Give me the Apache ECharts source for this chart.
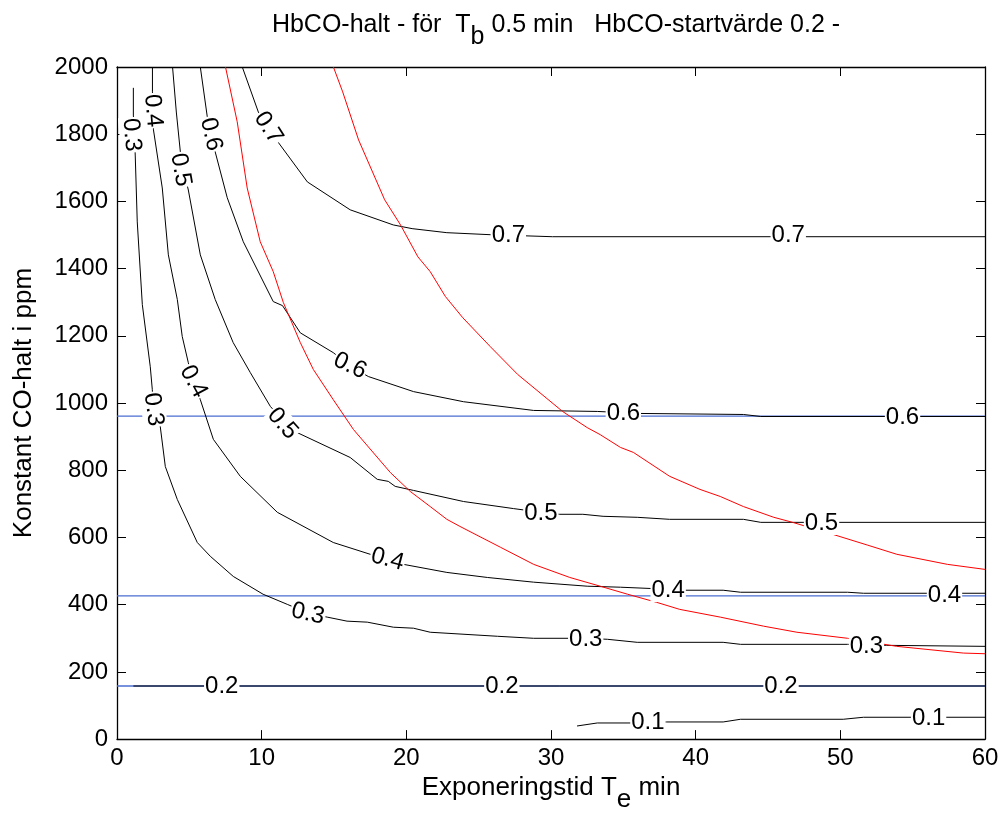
<!DOCTYPE html>
<html>
<head>
<meta charset="utf-8">
<script src="https://cdn.jsdelivr.net/npm/echarts@6/dist/echarts.min.js"></script>
<style>
html,body{margin:0;padding:0;background:#fff;}
#chart{width:1003px;height:818px;}
</style>
</head>
<body>
<div id="chart"></div>
<script>
// ---- data (x: Exponeringstid min, y: CO-halt ppm) ----
const xTicks = [0, 10, 20, 30, 40, 50, 60];
const yTicks = [0, 200, 400, 600, 800, 1000, 1200, 1400, 1600, 1800, 2000];

const c01 = [[31.8,39],[33.2,48],[35.5,48],[38.0,51],[41.9,51],[43.1,59],[50.2,59],[51.6,65],[60,65]];
const c02 = [[1.13,158],[60,158]];
const c03 = [[1.13,1938],[1.13,1857],[1.2,1798],[1.26,1738],[1.40,1539],[1.75,1293],[2.30,1108],[2.44,1040],[2.52,981],[2.99,930],[3.34,811],[4.17,713],[5.55,585],[6.45,544],[8.04,484],[10.1,431],[11.77,401],[13.2,375],[14.53,363],[15.9,351],[17.3,348],[19.1,333],[20.5,330],[21.65,318],[26.3,306],[28.8,300],[32.4,300],[33.9,297],[35.96,288],[41.9,288],[43.1,282],[50.5,282],[51.8,281],[53.2,279],[60,276]];
const c04 = [[2.45,2000],[2.45,1926],[2.5,1870],[2.52,1813],[3.13,1640],[3.55,1441],[4.17,1308],[4.51,1198],[4.93,1120],[5.29,1064],[5.76,1010],[6.66,892],[8.52,782],[11.08,675],[14.95,585],[17.5,550],[18.7,535],[19.8,520],[22.8,496],[25.6,481],[28.8,467],[32.5,455],[34.8,452],[38.1,446],[38.9,443],[41.9,443],[43.1,437],[50.5,437],[51.6,434],[60,434]];
const c05 = [[3.84,2000],[4.1,1866],[4.38,1747],[4.6,1694],[4.93,1634],[5.76,1441],[6.79,1308],[8.03,1180],[9.21,1091],[10.6,990],[11.44,950],[12.46,912],[16.12,838],[17.99,773],[18.75,767],[19.23,752],[20.5,740],[23.95,707],[27.4,686],[29.3,675],[30.6,669],[32.2,669],[33.6,663],[35.96,660],[38.2,654],[43.3,654],[44.5,645],[60,645]];
const c06 = [[5.76,2000],[6.24,1852],[6.5,1800],[6.79,1747],[7.62,1611],[8.73,1480],[10.8,1302],[11.44,1290],[12.67,1209],[14.95,1150],[16.1,1111],[17.37,1079],[20.5,1034],[23.95,1004],[28.8,978],[33.2,975],[36.2,969],[43.3,966],[44.5,960],[60,960]];
const c07 = [[8.66,2000],[9.77,1866],[10.46,1819],[11.16,1775],[13.16,1658],[16.12,1575],[19.1,1530],[20.4,1519],[22.8,1507],[25.8,1501],[30.1,1495],[60,1495]];

const redA = [[7.5,2000],[8.31,1837],[9.0,1640],[9.9,1480],[10.8,1391],[11.5,1299],[12.67,1180],[13.57,1100],[14.95,1010],[16.35,921],[18.9,793],[20.27,737],[21.65,692],[22.8,654],[23.7,633],[26.5,571],[28.8,520],[31.3,481],[33.4,455],[35.3,431],[37.3,407],[38.9,386],[41.7,363],[44.7,336],[47.0,318],[50.5,300],[53.9,276],[58.5,256],[60,254]];
const redB = [[14.96,2000],[15.6,1926],[16.7,1783],[18.5,1605],[19.6,1530],[20.8,1435],[21.65,1391],[22.7,1317],[23.9,1254],[25.8,1168],[27.7,1085],[30.8,975],[32.5,927],[33.4,906],[34.8,868],[35.7,853],[38.2,782],[40.3,743],[41.7,722],[43.3,692],[45.4,660],[46.7,645],[49.5,609],[51.9,577],[53.9,550],[57.4,520],[60,505]];

const blueLevels = [961, 426, 158];

// contour labels: [x, y, text]
const labelPoints = [
  [10.46,1819,'0.7'],[27.05,1498,'0.7'],[46.4,1498,'0.7'],
  [6.5,1800,'0.6'],[16.1,1111,'0.6'],[35.0,970,'0.6'],[54.3,956,'0.6'],
  [4.4,1694,'0.5'],[11.44,939,'0.5'],[29.3,672,'0.5'],[48.7,643,'0.5'],
  [2.5,1870,'0.4'],[5.29,1064,'0.4'],[18.7,535,'0.4'],[38.1,444,'0.4'],[57.2,428,'0.4'],
  [1.0,1798,'0.3'],[2.52,981,'0.3'],[13.2,373,'0.3'],[32.4,298,'0.3'],[51.8,277,'0.3'],
  [7.24,158,'0.2'],[26.6,158,'0.2'],[45.9,158,'0.2'],
  [36.7,50,'0.1'],[56.1,63,'0.1']
];
const labelAngles = [-57,0,0, -77,-25,0,0, -80,-48,0,0, -85,-62,-15,0,0, -85,-82,-12,0,0, 0,0,0, 0,0];

// ---- chart ----
const FONT = 'Liberation Sans, Arial, Helvetica, sans-serif';
const chart = echarts.init(document.getElementById('chart'), null, {renderer:'canvas'});

function lineSeries(data, color, z, w){
  return {type:'line', data:data, showSymbol:false, symbol:'none', smooth:false,
    lineStyle:{color:color, width:w || 1}, z:z, silent:true, animation:false};
}

const series = [];
blueLevels.forEach(v => series.push(lineSeries([[0,v],[60,v]], '#4a6cd0', 2, 1.3)));
[c01,c02,c03,c04,c05,c06,c07].forEach(c => series.push(lineSeries(c, '#000000', 3)));
series.push(lineSeries(redA, '#ff0000', 4));
series.push(lineSeries(redB, '#ff0000', 4));
series.push({
  type:'scatter', symbolSize:0, z:10, silent:true, animation:false,
  itemStyle:{color:'#000'},
  data: labelPoints.map((p,i) => ({value:[p[0],p[1]], name:p[2],
    label:{rotate:labelAngles[i]}})),
  label:{show:true, position:'inside', formatter: p => p.name,
    color:'#000', fontSize:24, fontFamily:FONT, backgroundColor:'#fff', padding:[0,1],
    textBorderWidth:0, textBorderColor:'transparent', textShadowBlur:0, opacity:1}
});

const axisCommon = {
  axisLine:{show:true, onZero:false, lineStyle:{color:'#000', width:1.3}},
  axisTick:{show:true, inside:true, length:9, lineStyle:{color:'#000', width:1}},
  splitLine:{show:false}
};
const plain = v => String(v);

chart.setOption({
  animation:false,
  backgroundColor:'#fff',
  title:{
    text:'{n|HbCO-halt - för  T}{s|b}{n| 0.5 min   HbCO-startvärde 0.2 -}',
    left:551, top:8, textAlign:'center',
    textStyle:{fontWeight:'normal', rich:{
      n:{fontSize:25, fontFamily:FONT, fontWeight:'normal', color:'#000', lineHeight:25, verticalAlign:'top'},
      s:{fontSize:25, fontFamily:FONT, fontWeight:'normal', color:'#000', lineHeight:25, verticalAlign:'top', padding:[12,0,0,0]}
    }}
  },
  grid:{left:117, right:18, top:67, bottom:78, containLabel:false},
  xAxis:[
    Object.assign({type:'value', min:0, max:60, interval:10, position:'bottom',
      name:'{n|Exponeringstid T}{s|e}{n| min}', nameLocation:'middle', nameGap:31,
      nameTextStyle:{rich:{
        n:{fontSize:26, fontFamily:FONT, color:'#000', lineHeight:26, verticalAlign:'top'},
        s:{fontSize:26, fontFamily:FONT, color:'#000', lineHeight:26, verticalAlign:'top', padding:[12,0,0,0]}
      }},
      axisLabel:{color:'#000', fontSize:24, fontFamily:FONT, margin:7, formatter:plain}}, axisCommon),
    Object.assign({type:'value', min:0, max:60, interval:10, position:'top',
      axisLabel:{show:false}}, axisCommon)
  ],
  yAxis:[
    Object.assign({type:'value', min:0, max:2000, interval:200, position:'left',
      name:'Konstant CO-halt i ppm', nameLocation:'middle', nameGap:80,
      nameTextStyle:{fontSize:26, fontFamily:FONT, color:'#000'},
      axisLabel:{color:'#000', fontSize:24, fontFamily:FONT, margin:9, formatter:plain}}, axisCommon),
    Object.assign({type:'value', min:0, max:2000, interval:200, position:'right',
      axisLabel:{show:false}}, axisCommon)
  ],
  series:series
});
</script>
</body>
</html>
